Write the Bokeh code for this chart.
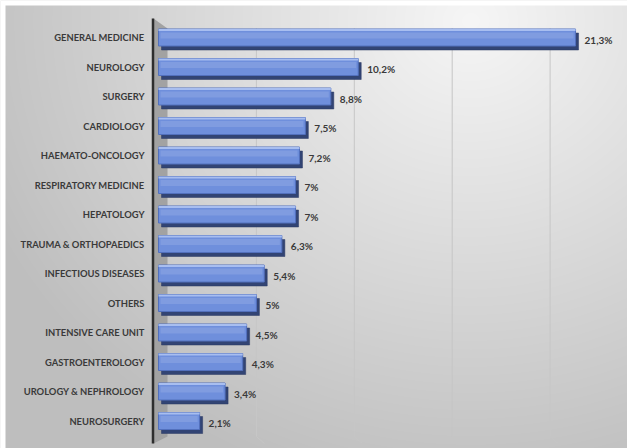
import numpy as np
from bokeh.plotting import figure
from bokeh.models import Range1d, ColumnDataSource
from bokeh.core.properties import value
from bokeh.embed import file_html
from bokeh.resources import INLINE

categories = ["GENERAL MEDICINE", "NEUROLOGY", "SURGERY", "CARDIOLOGY",
              "HAEMATO-ONCOLOGY", "RESPIRATORY MEDICINE", "HEPATOLOGY",
              "TRAUMA & ORTHOPAEDICS", "INFECTIOUS DISEASES", "OTHERS",
              "INTENSIVE CARE UNIT", "GASTROENTEROLOGY", "UROLOGY & NEPHROLOGY",
              "NEUROSURGERY"]
values = [21.3, 10.2, 8.8, 7.5, 7.2, 7, 7, 6.3, 5.4, 5, 4.5, 4.3, 3.4, 2.1]
value_labels = ["21,3%", "10,2%", "8,8%", "7,5%", "7,2%", "7%", "7%", "6,3%",
                "5,4%", "5%", "4,5%", "4,3%", "3,4%", "2,1%"]
grid_ticks = [5, 10, 15, 20]

W, H = 627, 448
n = len(categories)
ys = [n - 1 - i for i in range(n)]

# pixel geometry -> data ranges
x0_px, px_per_x = 158.0, 19.58
y_top_px, px_per_y = 39.0, 29.5
xr = Range1d(-x0_px / px_per_x, (W - x0_px) / px_per_x)
yr = Range1d((n - 1) - (H - y_top_px) / px_per_y, (n - 1) + y_top_px / px_per_y)

p = figure(width=W, height=H, x_range=xr, y_range=yr, output_backend="svg",
           toolbar_location=None, min_border=0, x_axis_type=None, y_axis_type=None)
p.outline_line_color = None
p.background_fill_color = "#e6e6e6"
p.border_fill_color = "#e6e6e6"

# background gradient
yy, xx = np.mgrid[0:H, 0:W]
d = np.sqrt((xx - 470.0) ** 2 + ((yy - 20.0) * 1.1) ** 2)
g = np.clip(246 - 0.105 * d, 190, 246)
g[yy < 5] = 255
g[xx < 5] = 255
g = g[::-1].astype(np.uint8)
img = np.empty((H, W), dtype=np.uint32)
view = img.view(dtype=np.uint8).reshape((H, W, 4))
view[..., 0] = g
view[..., 1] = g
view[..., 2] = g
view[..., 3] = 255
p.image_rgba(image=[img], x=xr.start, y=yr.start, dw=xr.end - xr.start, dh=yr.end - yr.start)

# unit conversions
ux = 1.0 / px_per_x
uy = 1.0 / px_per_y
top_y = (n - 1) + (y_top_px - 18) * uy
back_top = (n - 1) + (y_top_px - 28) * uy
bot_y = (n - 1) - (443 - y_top_px) * uy
back_bot = (n - 1) - (436 - y_top_px) * uy

# gridlines (back plane)
p.segment(x0=grid_ticks, x1=grid_ticks, y0=[back_top] * len(grid_ticks),
          y1=[back_bot] * len(grid_ticks), line_color="#c6c6c6", line_width=1)
p.segment(x0=grid_ticks, x1=[t + 8 * ux for t in grid_ticks],
          y0=[back_bot] * len(grid_ticks), y1=[bot_y] * len(grid_ticks),
          line_color="#c6c6c6", line_width=1)

# side wall
wl, wr = -5 * ux, 9 * ux
p.patch(x=[wl, wr, wr, wl], y=[top_y, back_top, back_bot, bot_y],
        fill_color="#a2a2a2", line_color=None)
# axis line
p.segment(x0=[-5.5 * ux], x1=[-5.5 * ux], y0=[top_y], y1=[bot_y],
          line_color="#2e2e2e", line_width=2.5)

src = ColumnDataSource(dict(y=ys, v=values, cat=categories, lab=value_labels))
bh = 17 * uy
dy = 2 * uy
# dark depth (bottom + right side)
src_dark = ColumnDataSource(dict(y=[v - dy for v in ys],
                                 r=[v + 3 * ux for v in values]))
p.hbar(y="y", left=3 * ux, right="r", height=bh, source=src_dark,
       fill_color="#324474", line_color="#2a3962", line_width=0.5)
# front face
src_front = ColumnDataSource(dict(y=[v + dy for v in ys], r=values))
p.hbar(y="y", left=0, right="r", height=bh, source=src_front,
       fill_color="#6f8fdc", line_color="#5270bd", line_width=1)
# glassy lighter band
src_band = ColumnDataSource(dict(y=[v + dy + 2 * uy for v in ys], r=[v - 2 * ux for v in values]))
p.hbar(y="y", left=2 * ux, right="r", height=6 * uy, source=src_band,
       fill_color="#ffffff", fill_alpha=0.12, line_color=None)
# top highlight edge
src_top = ColumnDataSource(dict(y=[v + dy + bh / 2 - 1 * uy for v in ys], r=values))
p.hbar(y="y", left=0, right="r", height=2 * uy, source=src_top,
       fill_color="#a8bef0", line_color=None)

# category labels
p.text(x=0, y="y", text="cat", source=src, x_offset=-14, y_offset=-2,
       text_align="right", text_baseline="middle",
       text_font=value("Lato"), text_font_style="bold",
       text_font_size="9.4px", text_color="#3a3a3a")
# value labels
p.text(x="v", y="y", text="lab", source=src, x_offset=9, y_offset=0,
       text_align="left", text_baseline="middle",
       text_font=value("Lato"), text_font_style="bold",
       text_font_size="10px", text_color="#3a3a3a")

open("out.html", "w").write(file_html(p, INLINE))
